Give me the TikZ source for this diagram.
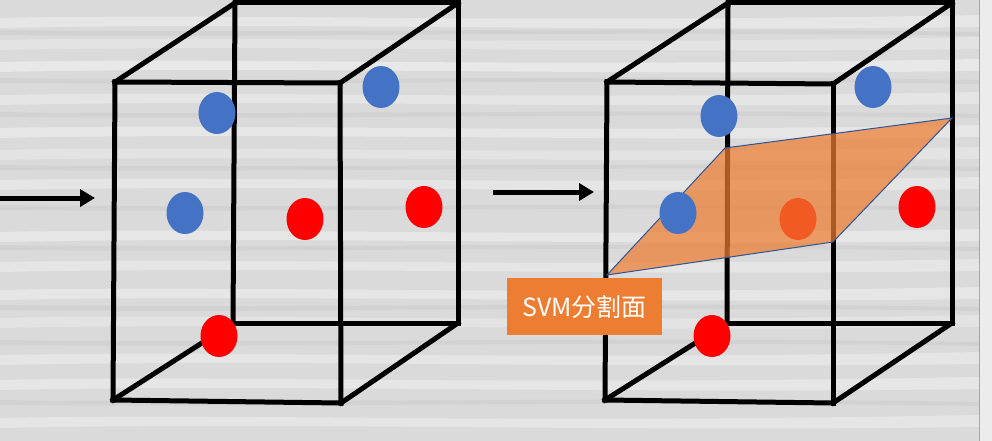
\documentclass[tikz,border=0pt]{standalone}
\usepackage{fontspec}
\newfontfamily\cjk{Noto Sans CJK SC}
\usetikzlibrary{arrows.meta,shapes.geometric}
\definecolor{bgray}{HTML}{DADADA}
\definecolor{lgray}{HTML}{ECECEC}
\definecolor{dotblue}{HTML}{4472C4}
\definecolor{dotred}{HTML}{FF0000}
\definecolor{planeor}{HTML}{ED7D31}
\definecolor{planeedge}{HTML}{2F5597}
\tikzset{
  edge/.style={line width=5pt, line cap=rect, black},
  bdot/.style={ellipse, fill=dotblue, inner sep=0pt, minimum width=37pt, minimum height=42pt},
  rdot/.style={ellipse, fill=dotred, inner sep=0pt, minimum width=37pt, minimum height=42pt},
  arr/.style={line width=5pt, -{Triangle[length=15pt,width=17pt]}},
  plane/.style={fill=planeor, fill opacity=0.72, draw=planeedge, line width=1pt, draw opacity=1},
  labelbox/.style={fill=planeor, text=white, font=\cjk\fontsize{25}{29}\selectfont, minimum width=155pt, minimum height=57pt, inner sep=0pt}
}
\begin{document}
\begin{tikzpicture}[x=1pt,y=-1pt]
\useasboundingbox (0,0) rectangle (992,441);
% background
\fill[bgray] (0,0) rectangle (980,441);
\fill[lgray] (980,0) rectangle (992,441);
\draw[gray!70, line width=0.8pt] (979.5,0) -- (979.5,441);
\begin{scope}
\clip (0,0) rectangle (979,441);
\foreach \yy/\op in {18/0.35,40/0.25,62/0.4,95/0.3,128/0.35,150/0.25,180/0.3,232/0.35,262/0.3,290/0.35,318/0.25,355/0.3,380/0.35,418/0.3}{
  \fill[white, opacity=\op] (0,\yy) .. controls (250,\yy-5) and (500,\yy+6) .. (979,\yy-3) -- (979,\yy+9) .. controls (600,\yy+14) and (300,\yy+4) .. (0,\yy+10) -- cycle;
}
\foreach \yy in {30,78,112,165,205,245,305,340,400}{
  \fill[gray, opacity=0.08] (0,\yy) .. controls (300,\yy+4) and (600,\yy-4) .. (979,\yy+2) -- (979,\yy+6) .. controls (600,\yy) and (300,\yy+8) .. (0,\yy+5) -- cycle;
}
\end{scope}

% ---------- left cube ----------
\coordinate (Lftl) at (115,82);
\coordinate (Lftr) at (340,83);
\coordinate (Lfbr) at (341,403);
\coordinate (Lfbl) at (113,400);
\coordinate (Lbtl) at (235,3);
\coordinate (Lbtr) at (458,3);
\coordinate (Lbbr) at (458,323);
\coordinate (Lbbl) at (233,323);
\draw[edge] (Lbtl) -- (Lbtr);
\draw[edge] (Lbtl) -- (Lbbl);
\draw[edge] (Lbbl) -- (Lbbr);
\draw[edge] (Lbtr) -- (Lbbr);
\draw[edge] (Lftl) -- (Lbtl);
\draw[edge] (Lftr) -- (Lbtr);
\draw[edge] (Lfbl) -- (Lbbl);
\draw[edge] (Lfbr) -- (Lbbr);
\draw[edge] (Lftl) -- (Lftr);
\draw[edge] (Lftr) -- (Lfbr);
\draw[edge] (Lfbr) -- (Lfbl);
\draw[edge] (Lfbl) -- (Lftl);

\node[bdot] (lb1) at (217,113) {};
\node[bdot] (lb2) at (381,87) {};
\node[bdot] (lb3) at (185,213) {};
\node[rdot] (lr1) at (305,219) {};
\node[rdot] (lr2) at (424,207) {};
\node[rdot] (lr3) at (219,336) {};

% ---------- right cube ----------
\coordinate (Rftl) at (607,82);
\coordinate (Rftr) at (833,84);
\coordinate (Rfbr) at (833,403);
\coordinate (Rfbl) at (605,400);
\coordinate (Rbtl) at (728,3);
\coordinate (Rbtr) at (952,3);
\coordinate (Rbbr) at (952,323);
\coordinate (Rbbl) at (727,323);
\draw[edge] (Rbtl) -- (Rbtr);
\draw[edge] (Rbtl) -- (Rbbl);
\draw[edge] (Rbbl) -- (Rbbr);
\draw[edge] (Rbtr) -- (Rbbr);
\draw[edge] (Rftl) -- (Rbtl);
\draw[edge] (Rftr) -- (Rbtr);
\draw[edge] (Rfbl) -- (Rbbl);
\draw[edge] (Rfbr) -- (Rbbr);
\draw[edge] (Rftl) -- (Rftr);
\draw[edge] (Rftr) -- (Rfbr);
\draw[edge] (Rfbr) -- (Rfbl);
\draw[edge] (Rfbl) -- (Rftl);

\node[bdot] (rb1) at (719,116) {};
\node[bdot] (rb2) at (873,87) {};
\node[rdot] (rr1) at (798,219) {};
\node[rdot] (rr2) at (917,207) {};
\node[rdot] (rr3) at (712,336) {};

% SVM plane
\coordinate (P1) at (607,275);
\coordinate (P2) at (725,148);
\coordinate (P3) at (952,118);
\coordinate (P4) at (833,242);
\draw[plane] (P1) -- (P2) -- (P3) -- (P4) -- cycle;

\node[bdot] (rb3) at (678,213) {};

% label
\node[labelbox] (lbl) at (584.5,306.5) {SVM分割面};

% arrows
\coordinate (a1s) at (0,198);
\coordinate (a1e) at (95,198);
\coordinate (a2s) at (493,192);
\coordinate (a2e) at (594,192);
\draw[arr] (a1s) -- (a1e);
\draw[arr] (a2s) -- (a2e);
\end{tikzpicture}
\end{document}
